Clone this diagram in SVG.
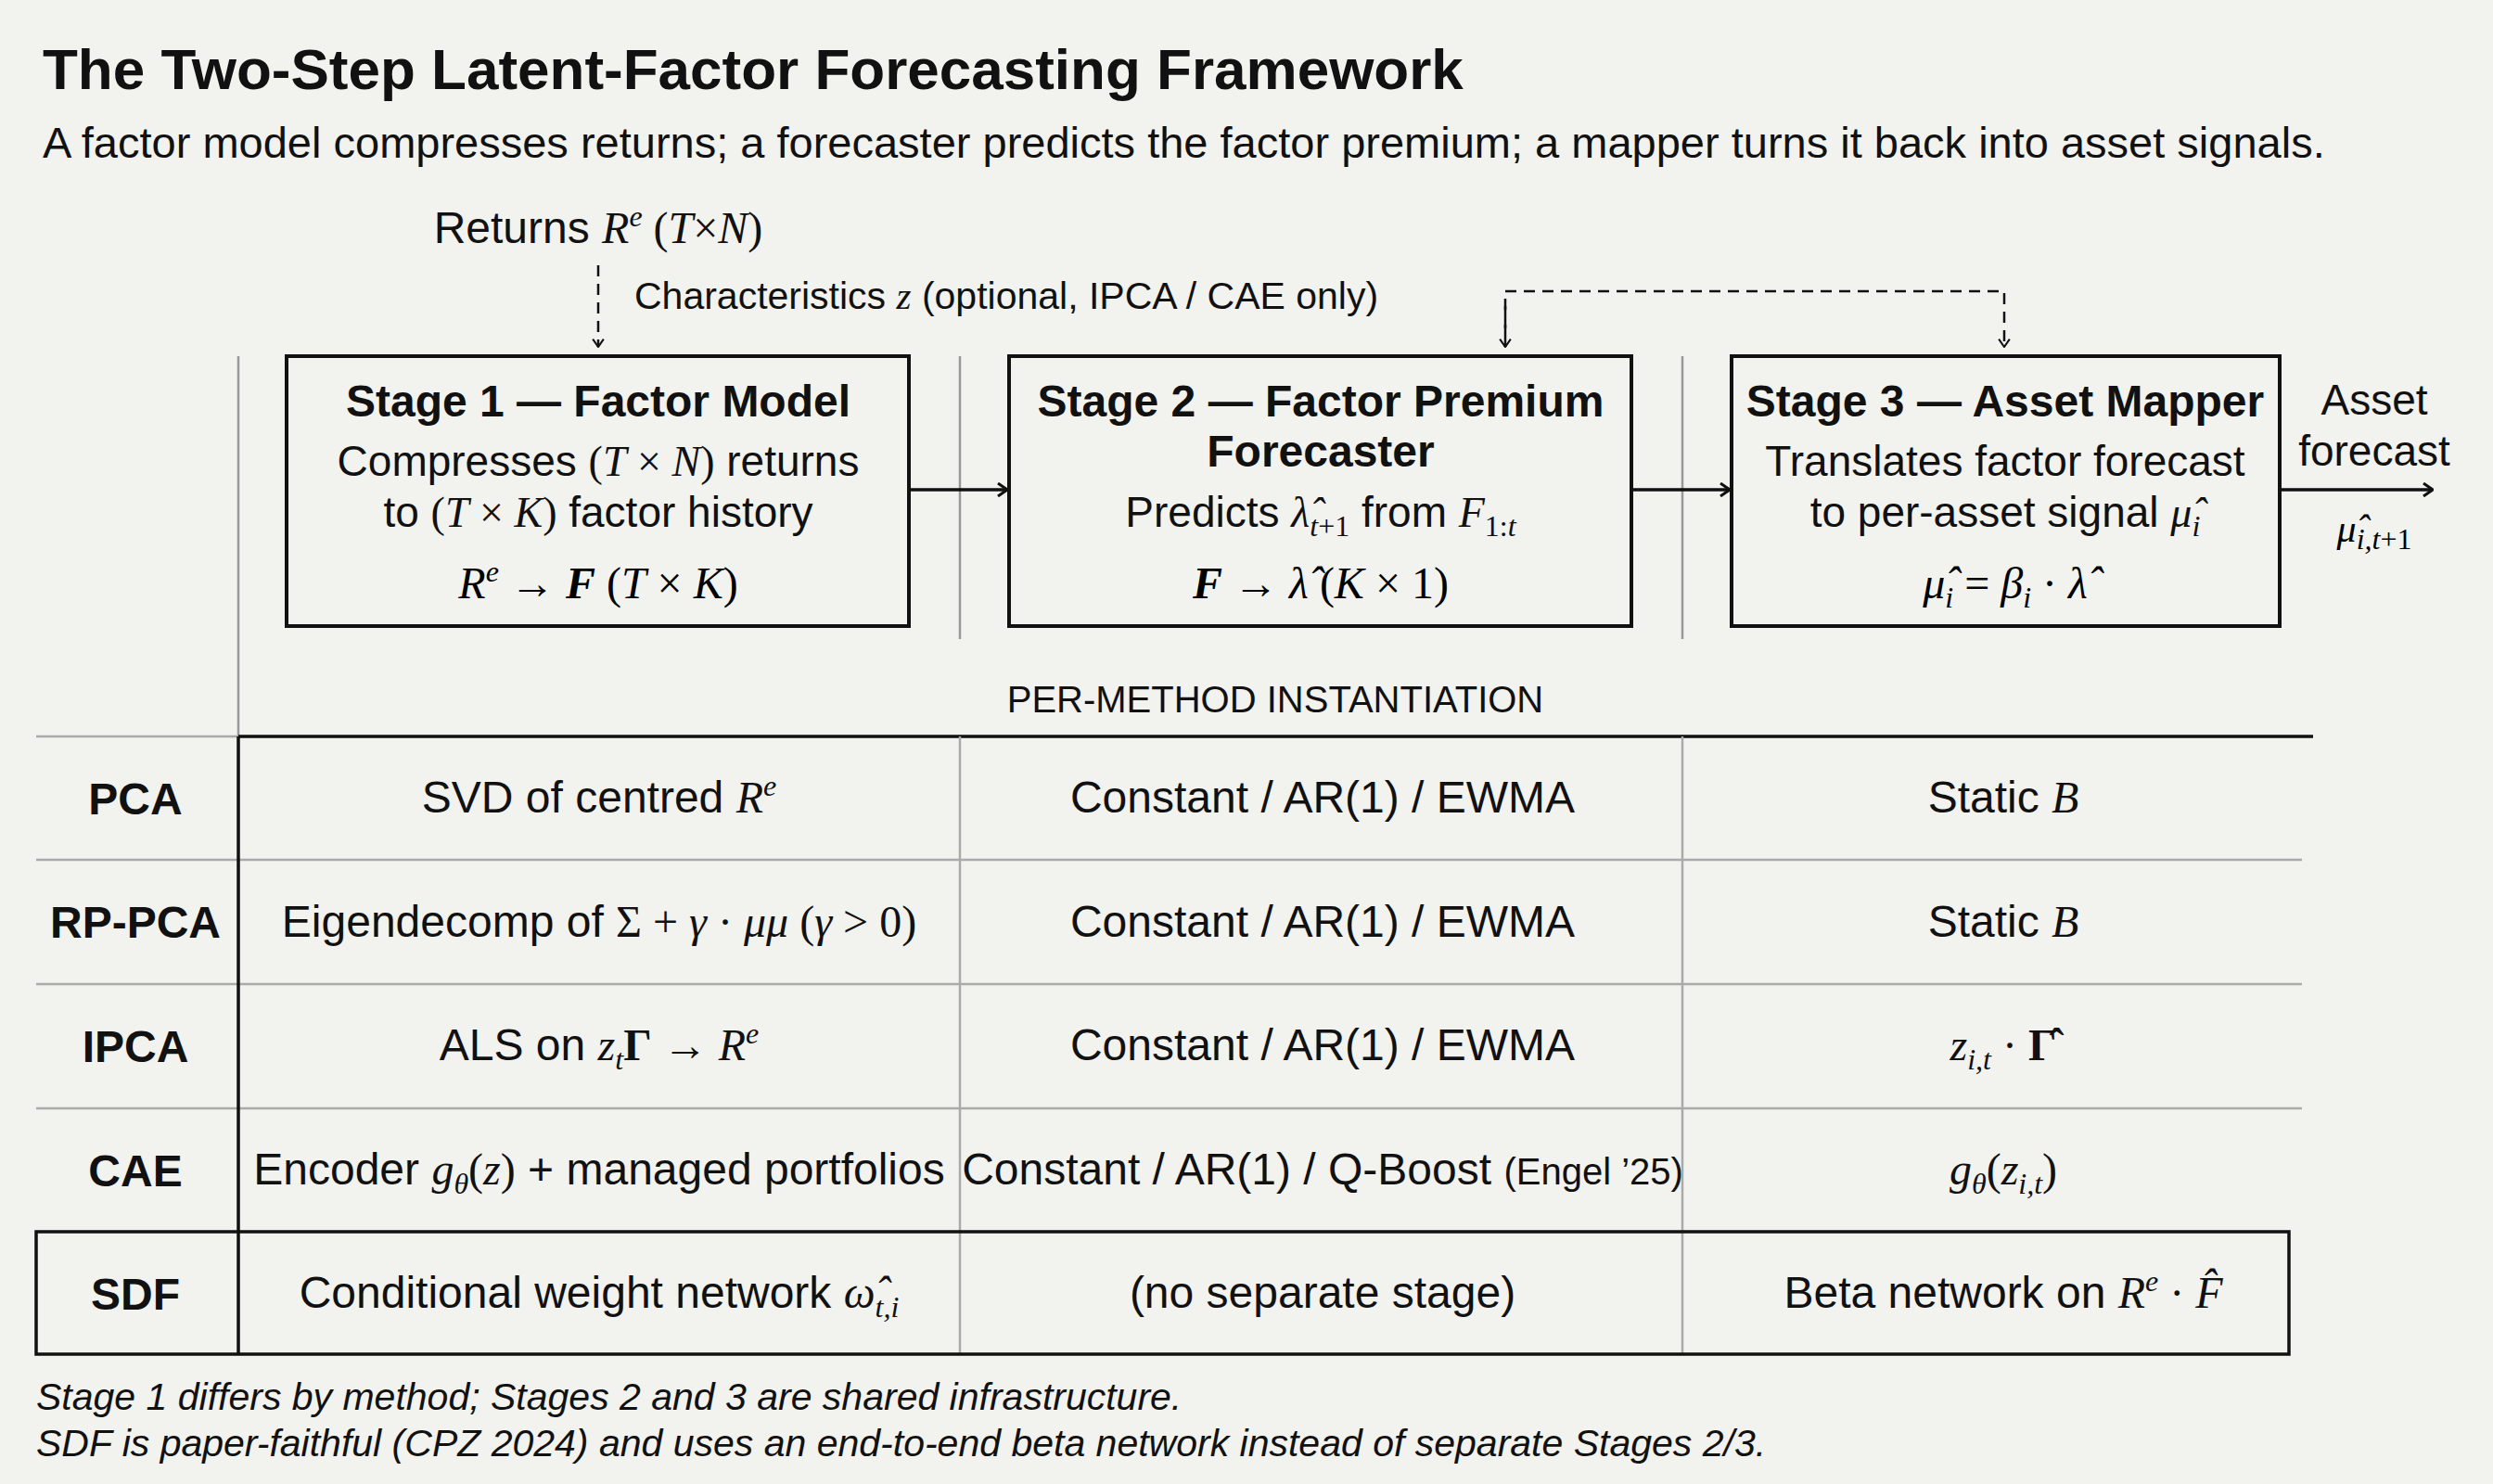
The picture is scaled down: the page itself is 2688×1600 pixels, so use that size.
<svg xmlns="http://www.w3.org/2000/svg" width="2688" height="1600" viewBox="0 0 2688 1600">
<style>
.s{font-family:"Liberation Sans",Arial,sans-serif;fill:#111}
.m{font-family:"Liberation Serif","Times New Roman",serif;font-style:italic}
.r{font-family:"Liberation Serif","Times New Roman",serif;font-style:normal}
.b{font-weight:bold}
.box{fill:none;stroke:#111;stroke-width:4}
.sep{stroke:#999;stroke-width:2.5}
.grid{stroke:#aaa;stroke-width:2.5}
.blk{stroke:#111;stroke-width:3.5;fill:none}
.ar{stroke:#111;stroke-width:3.5;fill:none;marker-end:url(#a)}
.da{stroke:#111;stroke-width:2.5;fill:none;stroke-dasharray:12 8}
.t48{font-size:48px}
.t46{font-size:46px}
.sub{font-size:32px}
.c{text-anchor:middle}
</style>
<defs>
<marker id="a" viewBox="0 0 12 16" refX="11" refY="8" markerWidth="12" markerHeight="16" markerUnits="userSpaceOnUse" orient="auto"><path d="M1 1 L11 8 L1 15" fill="none" stroke="#111" stroke-width="3"/></marker>
<marker id="a2" viewBox="0 0 12 16" refX="11" refY="8" markerWidth="10" markerHeight="14" markerUnits="userSpaceOnUse" orient="auto"><path d="M1 1 L11 8 L1 15" fill="none" stroke="#111" stroke-width="2.5"/></marker>
</defs>
<rect width="2688" height="1600" fill="#f2f2ef"/>
<text class="s b" x="46" y="96" font-size="62">The Two-Step Latent-Factor Forecasting Framework</text>
<text class="s" x="46" y="170" font-size="47">A factor model compresses returns; a forecaster predicts the factor premium; a mapper turns it back into asset signals.</text>

<g id="connectors">
<line class="sep" x1="257" y1="384" x2="257" y2="794"/>
<line class="sep" x1="1035" y1="384" x2="1035" y2="689"/>
<line class="sep" x1="1814" y1="384" x2="1814" y2="689"/>
<path class="da" d="M645 286 V374" marker-end="url(#a2)"/>
<path class="da" d="M1623 374 V314 H2161 V374" marker-end="url(#a2)"/>
<path class="da" d="M1623 330 V374" marker-end="url(#a2)"/>
<line class="ar" x1="982" y1="528" x2="1086" y2="528"/>
<line class="ar" x1="1761" y1="528" x2="1865" y2="528"/>
<line class="ar" x1="2460" y1="528" x2="2623" y2="528"/>
</g>

<g id="inputs">
<text class="s t48 c" x="645" y="262">Returns <tspan class="m">R</tspan><tspan class="m sub" dy="-18">e</tspan><tspan class="r" dy="18"> (</tspan><tspan class="m">T</tspan><tspan class="r">×</tspan><tspan class="m">N</tspan><tspan class="r">)</tspan></text>
<text class="s" x="684" y="333" font-size="41">Characteristics <tspan class="m">z</tspan> (optional, IPCA / CAE only)</text>
</g>

<g id="stage1">
<rect class="box" x="309" y="384" width="671" height="291"/>
<text class="s b t48 c" x="645" y="449">Stage 1 — Factor Model</text>
<text class="s t46 c" x="645" y="513">Compresses <tspan class="r">(</tspan><tspan class="m">T</tspan><tspan class="r"> × </tspan><tspan class="m">N</tspan><tspan class="r">)</tspan> returns</text>
<text class="s t46 c" x="645" y="568">to <tspan class="r">(</tspan><tspan class="m">T</tspan><tspan class="r"> × </tspan><tspan class="m">K</tspan><tspan class="r">)</tspan> factor history</text>
<text class="r t48 c" x="645" y="645"><tspan class="m">R</tspan><tspan class="m sub" dy="-18">e</tspan><tspan dy="18"> → </tspan><tspan class="m b">F</tspan> (<tspan class="m">T</tspan> × <tspan class="m">K</tspan>)</text>
</g>

<g id="stage2">
<rect class="box" x="1088" y="384" width="671" height="291"/>
<text class="s b t48 c" x="1424" y="449">Stage 2 — Factor Premium</text>
<text class="s b t48 c" x="1424" y="503">Forecaster</text>
<text class="s t46 c" x="1424" y="568">Predicts <tspan class="m">λ̂</tspan><tspan class="m sub" dy="10">t</tspan><tspan class="r sub">+1</tspan><tspan dy="-10"> from </tspan><tspan class="m">F</tspan><tspan class="r sub" dy="10">1:</tspan><tspan class="m sub">t</tspan></text>
<text class="r t48 c" x="1424" y="645"><tspan class="m b">F</tspan> → <tspan class="m">λ̂</tspan> (<tspan class="m">K</tspan> × 1)</text>
</g>

<g id="stage3">
<rect class="box" x="1867" y="384" width="591" height="291"/>
<text class="s b t48 c" x="2162" y="449">Stage 3 — Asset Mapper</text>
<text class="s t46 c" x="2162" y="513">Translates factor forecast</text>
<text class="s t46 c" x="2162" y="568">to per-asset signal <tspan class="m">μ̂</tspan><tspan class="m sub" dy="10">i</tspan></text>
<text class="r t48 c" x="2162" y="645"><tspan class="m">μ̂</tspan><tspan class="m sub" dy="10">i</tspan><tspan dy="-10"> = </tspan><tspan class="m">β</tspan><tspan class="m sub" dy="10">i</tspan><tspan dy="-10"> · </tspan><tspan class="m">λ̂</tspan></text>
</g>

<g id="output">
<text class="s t46 c" x="2560" y="447">Asset</text>
<text class="s t46 c" x="2560" y="502">forecast</text>
<text class="r c" x="2560" y="584" font-size="42"><tspan class="m">μ̂</tspan><tspan class="m sub" dy="8">i,t</tspan><tspan class="r sub">+1</tspan></text>
</g>

<g id="table">
<text class="s c" x="1375" y="768" font-size="40">PER-METHOD INSTANTIATION</text>
<line class="grid" x1="39" y1="794" x2="257" y2="794"/>
<line class="blk" x1="257" y1="794" x2="2494" y2="794"/>
<line class="grid" x1="39" y1="927" x2="2482" y2="927"/>
<line class="grid" x1="39" y1="1061" x2="2482" y2="1061"/>
<line class="grid" x1="39" y1="1195" x2="2482" y2="1195"/>
<line class="grid" x1="1035" y1="794" x2="1035" y2="1460"/>
<line class="grid" x1="1814" y1="794" x2="1814" y2="1460"/>
<rect class="blk" x="39" y="1328" width="2429" height="132"/>
<line class="blk" x1="257" y1="794" x2="257" y2="1460"/>

<g class="s t48">
<text class="b c" x="146" y="878">PCA</text>
<text class="b c" x="146" y="1011">RP-PCA</text>
<text class="b c" x="146" y="1145">IPCA</text>
<text class="b c" x="146" y="1279">CAE</text>
<text class="b c" x="146" y="1412">SDF</text>

<text class="c" x="646" y="876">SVD of centred <tspan class="m">R</tspan><tspan class="m sub" dy="-18">e</tspan></text>
<text class="c" x="646" y="1010">Eigendecomp of <tspan class="r">Σ + </tspan><tspan class="m">γ</tspan><tspan class="r"> · </tspan><tspan class="m">μμ</tspan><tspan class="r"> (</tspan><tspan class="m">γ</tspan><tspan class="r"> &gt; 0)</tspan></text>
<text class="c" x="646" y="1143">ALS on <tspan class="m">z</tspan><tspan class="m sub" dy="10">t</tspan><tspan class="r b" dy="-10">Γ</tspan><tspan class="r"> → </tspan><tspan class="m">R</tspan><tspan class="m sub" dy="-18">e</tspan></text>
<text class="c" x="646" y="1277">Encoder <tspan class="m">g</tspan><tspan class="m sub" dy="10">θ</tspan><tspan class="r" dy="-10">(</tspan><tspan class="m">z</tspan><tspan class="r">)</tspan> + managed portfolios</text>
<text class="c" x="646" y="1410">Conditional weight network <tspan class="m">ω̂</tspan><tspan class="m sub" dy="10">t,i</tspan></text>

<text class="c" x="1426" y="876">Constant / AR(1) / EWMA</text>
<text class="c" x="1426" y="1010">Constant / AR(1) / EWMA</text>
<text class="c" x="1426" y="1143">Constant / AR(1) / EWMA</text>
<text class="c" x="1426" y="1277">Constant / AR(1) / Q-Boost <tspan font-size="40">(Engel ’25)</tspan></text>
<text class="c" x="1426" y="1410">(no separate stage)</text>

<text class="c" x="2160" y="876">Static <tspan class="m">B</tspan></text>
<text class="c" x="2160" y="1010">Static <tspan class="m">B</tspan></text>
<text class="r c" x="2160" y="1143"><tspan class="m">z</tspan><tspan class="m sub" dy="10">i,t</tspan><tspan dy="-10"> · </tspan><tspan class="b">Γ̂</tspan></text>
<text class="r c" x="2160" y="1277"><tspan class="m">g</tspan><tspan class="m sub" dy="10">θ</tspan><tspan dy="-10">(</tspan><tspan class="m">z</tspan><tspan class="m sub" dy="10">i,t</tspan><tspan dy="-10">)</tspan></text>
<text class="c" x="2160" y="1410">Beta network on <tspan class="m">R</tspan><tspan class="m sub" dy="-18">e</tspan><tspan class="r" dy="18"> · </tspan><tspan class="m">F̂</tspan></text>
</g>
</g>

<g id="notes" class="s" font-size="41" font-style="italic">
<text x="39" y="1520">Stage 1 differs by method; Stages 2 and 3 are shared infrastructure.</text>
<text x="39" y="1570">SDF is paper-faithful (CPZ 2024) and uses an end-to-end beta network instead of separate Stages 2/3.</text>
</g>
</svg>
